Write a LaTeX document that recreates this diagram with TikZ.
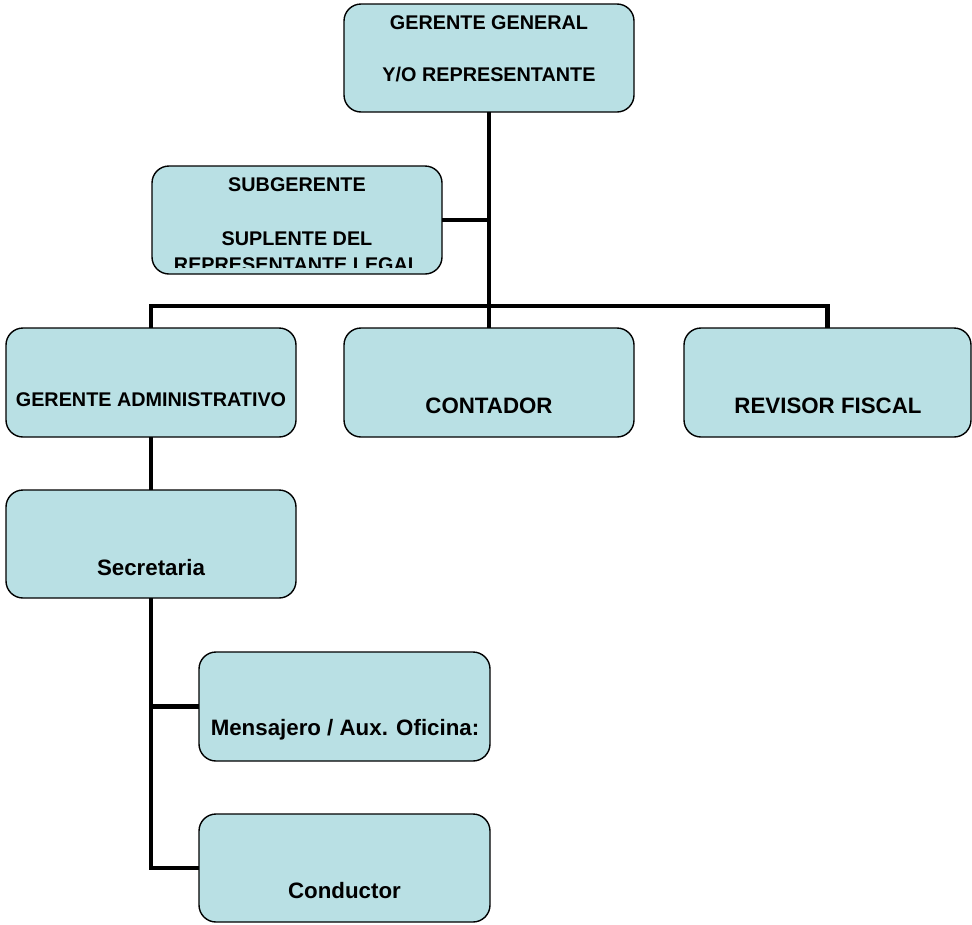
\documentclass[tikz,border=0pt]{standalone}
\usepackage{fontspec}
\setmainfont{Liberation Sans}
\definecolor{boxfill}{RGB}{185,224,228}
\tikzset{
  box/.style={draw=black, line width=1.4pt, fill=boxfill, rounded corners=17pt,
    rectangle, inner sep=0pt, outer sep=0pt},
  conn/.style={draw=black, line width=4.6pt, line join=miter, line cap=butt},
  lblS/.style={anchor=base, inner sep=0pt, font=\fontsize{19.8}{24}\selectfont\bfseries},
  lblL/.style={anchor=base, inner sep=0pt, font=\fontsize{22.3}{27}\selectfont\bfseries}
}
\begin{document}
\begin{tikzpicture}[x=1pt,y=-1pt]
\useasboundingbox (0,0) rectangle (972,924);
% boxes
\node[box, minimum width=290pt, minimum height=108pt] (gg)  at (489,58) {};
\node[box, minimum width=290pt, minimum height=108pt] (sub) at (297,220) {};
\node[box, minimum width=290pt, minimum height=109pt] (ga)  at (151,382.5) {};
\node[box, minimum width=290pt, minimum height=109pt] (con) at (489,382.5) {};
\node[box, minimum width=287pt, minimum height=109pt] (rev) at (827.5,382.5) {};
\node[box, minimum width=290pt, minimum height=108pt] (sec) at (151,544) {};
\node[box, minimum width=291pt, minimum height=109pt] (men) at (344.5,706.5) {};
\node[box, minimum width=291pt, minimum height=108pt] (cdr) at (344.5,868) {};
% connector points
\coordinate (barM) at (489,306);
% connectors
\draw[conn] (gg.south) -- (con.north);
\draw[conn] (ga.north) -- (ga.north |- barM) -- (rev.north |- barM) -- (rev.north);
\draw[conn] (sub.east) -- (sub.east -| gg.south);
\draw[conn] (ga.south) -- (sec.north);
\draw[conn] (sec.south) |- (cdr.west);
\draw[conn] (men.west) -- (men.west -| sec.south);
% labels
\node[lblS] (gg1) at (489,29) {GERENTE GENERAL};
\node[lblS] (gg2) at (489,81.5) {Y/O REPRESENTANTE};
\node[lblS] (sub1) at (297,191) {SUBGERENTE};
\node[lblS] (sub2) at (297,245) {SUPLENTE DEL};
\begin{scope}
\clip (152,166) rectangle (442,267);
\node[lblS] (sub3) at (297,271) {REPRESENTANTE LEGAL};
\end{scope}
\node[lblS] (ga1) at (151,406) {GERENTE ADMINISTRATIVO};
\node[lblL] (con1) at (489,413) {CONTADOR};
\node[lblL] (rev1) at (828,413) {REVISOR FISCAL};
\node[lblL] (sec1) at (151,575) {Secretaria};
\node[lblL] (men1) at (345,735) {Mensajero / Aux. Oficina:};
\node[lblL] (cdr1) at (344.5,898) {Conductor};
\end{tikzpicture}
\end{document}
